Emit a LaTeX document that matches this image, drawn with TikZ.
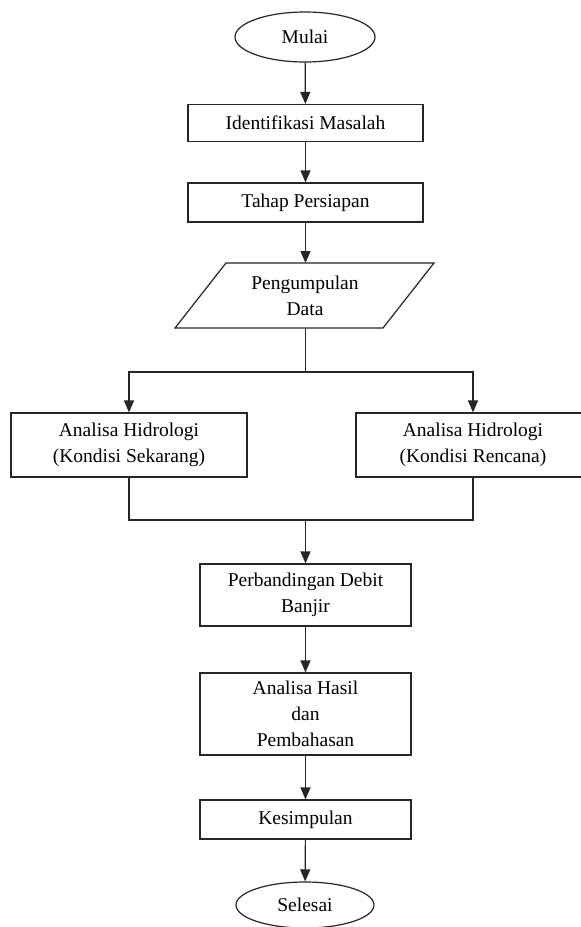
\documentclass[tikz,border=0pt]{standalone}
\usepackage{fontspec}
\setmainfont{Liberation Serif}
\usetikzlibrary{arrows.meta,shapes.geometric}
\begin{document}
\begin{tikzpicture}[x=1pt,y=-1pt,
  every node/.style={font=\fontsize{19.5}{26}\selectfont, align=center, inner sep=0pt},
  line/.style={line width=1.2pt, draw=black!85},
  box/.style={draw=black!85, line width=1.2pt, rectangle},
  oval/.style={draw=black!85, line width=1.2pt, ellipse},
  arr/.style={line, -{Triangle[width=10pt,length=12pt]}}]
\useasboundingbox (0,0) rectangle (581,927);
\clip (0,0) rectangle (581,927);
\fill[white] (0,0) rectangle (581,927);
% nodes
\node[oval, minimum width=140pt, minimum height=50pt] (mulai) at (305,37) {Mulai};
\node[box, minimum width=235pt, minimum height=37pt] (ident) at (305.5,123) {Identifikasi Masalah};
\node[box, minimum width=235pt, minimum height=39pt] (tahap) at (305.5,202.5) {Tahap Persiapan};
\draw[line] (175,328) -- (226,263) -- (434,263) -- (383,328) -- cycle;
\node (data) at (305,295.5) {Pengumpulan\\Data};
\coordinate (dataT) at (305.5,263);
\coordinate (dataB) at (305.5,328);
\coordinate (split) at (305.5,372);
\node[box, minimum width=236pt, minimum height=64pt] (kini) at (129,445) {Analisa Hidrologi\\(Kondisi Sekarang)};
\node[box, minimum width=234pt, minimum height=64pt] (renc) at (473,445) {Analisa Hidrologi\\(Kondisi Rencana)};
\coordinate (join) at (305.5,520);
\node[box, minimum width=211pt, minimum height=62pt] (perb) at (305.5,595) {Perbandingan Debit\\Banjir};
\node[box, minimum width=211pt, minimum height=82pt] (hasil) at (305.5,714) {Analisa Hasil\\dan\\Pembahasan};
\node[box, minimum width=211pt, minimum height=39pt] (simp) at (305.5,819.5) {Kesimpulan};
\node[oval, minimum width=138pt, minimum height=46pt] (selesai) at (305,905) {Selesai};
% connectors
\draw[arr] (mulai) -- (ident);
\draw[arr] (ident) -- (tahap);
\draw[arr] (tahap) -- (dataT);
\draw[line] (dataB) -- (split);
\draw[arr] (split) -| (kini);
\draw[arr] (split) -| (renc);
\draw[line] (kini) |- (join) -| (renc);
\draw[arr] (join) -- (perb);
\draw[arr] (perb) -- (hasil);
\draw[arr] (hasil) -- (simp);
\draw[arr] (simp) -- (selesai);
\end{tikzpicture}
\end{document}
